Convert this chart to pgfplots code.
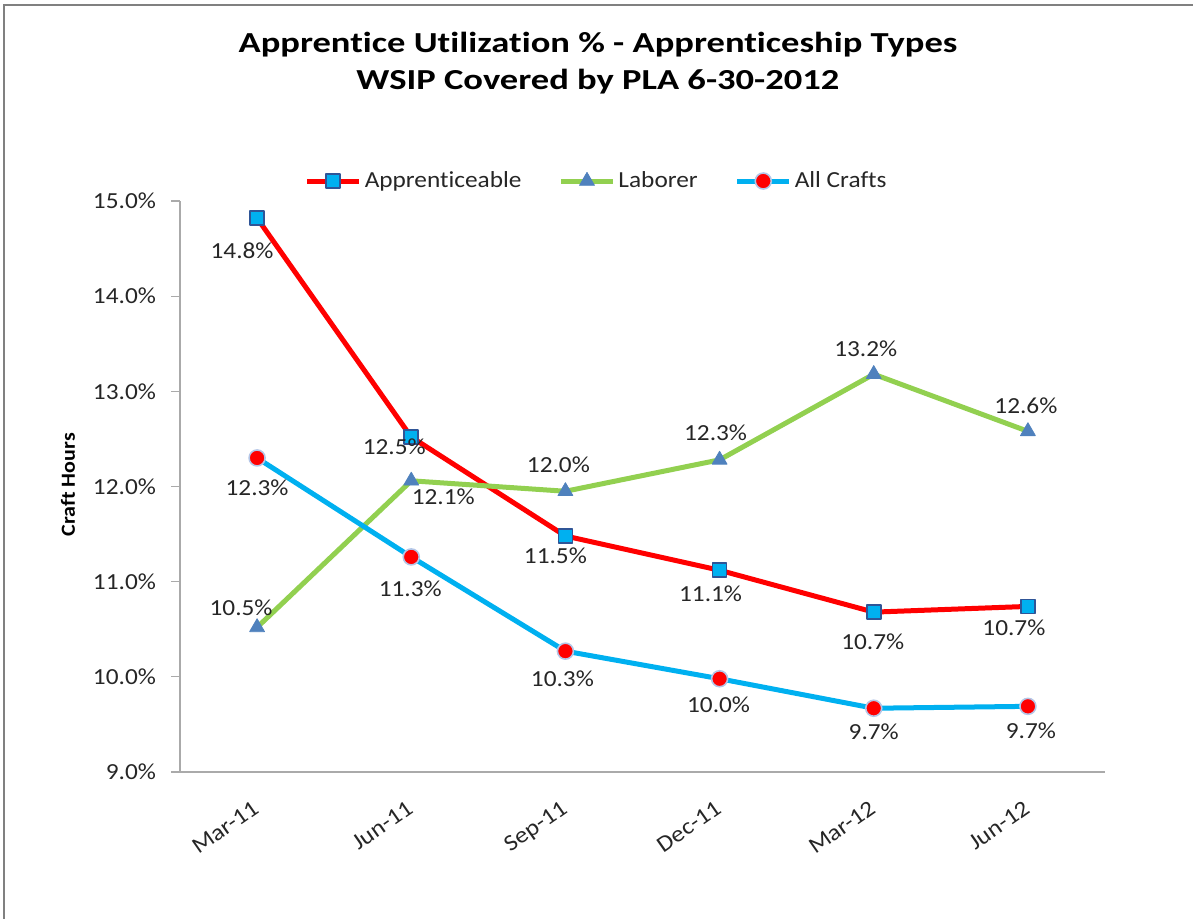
\documentclass[border=0pt]{standalone}
\usepackage{pgfplots}
\pgfplotsset{compat=1.18}
\usepackage{pgfplotstable}
\usepackage{fontspec}
\setmainfont{Carlito}[Ligatures=NoCommon]
\usepackage{graphicx}

\definecolor{appred}{RGB}{255,0,0}
\definecolor{appcyan}{RGB}{0,176,240}
\definecolor{appedge}{RGB}{47,85,151}
\definecolor{labgreen}{RGB}{146,208,80}
\definecolor{labblue}{RGB}{79,129,189}
\definecolor{allcyan}{RGB}{0,176,240}
\definecolor{allring}{RGB}{180,198,231}
\definecolor{txt}{RGB}{38,38,38}
\definecolor{axgray}{RGB}{170,170,170}
\definecolor{framegray}{RGB}{128,128,128}

\newcommand{\sx}[1]{\scalebox{1.1}[1]{#1}}
\newcommand{\tx}[1]{\scalebox{1.26}[1]{#1}}

\pgfplotstableread{
x y lab dx dy
0 14.82 14.8 -7.5 -16.5
1 12.52 12.5 -8.5 -5
2 11.48 11.5 -5 -10
3 11.12 11.1 -4.5 -11.5
4 10.68 10.7 -0.5 -15
5 10.74 10.7 -7 -10.5
}\apptab

\pgfplotstableread{
x y lab dx dy
0 10.52 10.5 -8 10
1 12.06 12.1 16 -8
2 11.95 12.0 -3.5 13.5
3 12.28 12.3 -2 13.5
4 13.18 13.2 -4 12.5
5 12.58 12.6 -1 13
}\labtab

\pgfplotstableread{
x y lab dx dy
0 12.30 12.3 0 -15
1 11.26 11.3 -0.5 -16
2 10.27 10.3 -1.5 -14
3 9.98 10.0 -0.5 -13
4 9.67 9.7 0 -12
5 9.69 9.7 1.5 -12
}\alltab

\begin{document}
\begin{tikzpicture}
\useasboundingbox (0,0) rectangle (596.5pt,-459.5pt);
\clip (0,0) rectangle (596.5pt,-459.5pt);
\draw[framegray, line width=1.4pt] (2pt,-2.5pt) rectangle (700pt,-700pt);
\node[align=center, font=\fontsize{14.5}{18.5}\selectfont\bfseries, text=black] at (299pt,-31.5pt)
  {\tx{Apprentice Utilization \% - Apprenticeship Types}\\\tx{WSIP Covered by PLA 6-30-2012}};
\begin{axis}[
  at={(90pt,-386pt)}, anchor=south west,
  scale only axis, width=462.5pt, height=285.5pt,
  xmin=-0.5, xmax=5.5, ymin=9, ymax=15,
  axis x line*=bottom, axis y line*=left,
  axis line style={axgray, line width=0.8pt},
  xtick={0,1,2,3,4,5},
  xticklabels={\sx{Mar-11},\sx{Jun-11},\sx{Sep-11},\sx{Dec-11},\sx{Mar-12},\sx{Jun-12}},
  xtick style={draw=none},
  xticklabel style={rotate=35, anchor=north east, xshift=-4pt, yshift=-2.5pt},
  ytick={9,10,11,12,13,14,15},
  yticklabels={\sx{9.0\%},\sx{10.0\%},\sx{11.0\%},\sx{12.0\%},\sx{13.0\%},\sx{14.0\%},\sx{15.0\%}},
  ytick style={axgray, line width=0.6pt},
  tick align=outside, major tick length=4.5pt,
  yticklabel style={anchor=east, xshift=-4pt},
  ticklabel style={font=\fontsize{11.5}{13}\selectfont, text=txt},
  every axis y label/.style={at={(axis description cs:-0.121,0.503)}, rotate=90, anchor=center,
     font=\fontsize{10}{12}\selectfont\bfseries},
  ylabel={\sx{Craft Hours}},
  clip=false,
  legend columns=3,
  legend style={draw=none, fill=none, at={(0.451,1.035)}, anchor=center,
    font=\fontsize{11.5}{13}\selectfont, text=txt,
    /tikz/every even column/.append style={column sep=17pt},
    nodes={inner sep=1.5pt}},
  legend image code/.code={\draw[mark repeat=2,mark phase=2,#1] plot coordinates {(0pt,0pt)(13pt,0pt)(26pt,0pt)};},
  point meta=explicit symbolic,
  nodes near coords={\sx{\pgfplotspointmeta\%}},
  every node near coord/.append style={font=\fontsize{11.5}{13}\selectfont, text=txt, anchor=center, xshift=\dx pt, yshift=\dy pt},
  visualization depends on={\thisrow{dx} \as \dx},
  visualization depends on={\thisrow{dy} \as \dy},
]
\addplot[appred, line width=2.5pt, line join=round, mark=square*, mark size=3.5pt,
  mark options={fill=appcyan, draw=appedge, line width=0.8pt}]
  table[x=x, y=y, meta=lab] {\apptab};
\addlegendentry{\sx{Apprenticeable}}
\addplot[labgreen, line width=2.5pt, line join=round, mark=triangle*, mark size=4.3pt,
  mark options={fill=labblue, draw=labblue, line width=0.4pt}]
  table[x=x, y=y, meta=lab] {\labtab};
\addlegendentry{\sx{Laborer}}
\addplot[allcyan, line width=2.5pt, line join=round, mark=*, mark size=4pt,
  mark options={fill=red, draw=allring, line width=0.8pt}]
  table[x=x, y=y, meta=lab] {\alltab};
\addlegendentry{\sx{All Crafts}}
\end{axis}
\end{tikzpicture}
\end{document}
